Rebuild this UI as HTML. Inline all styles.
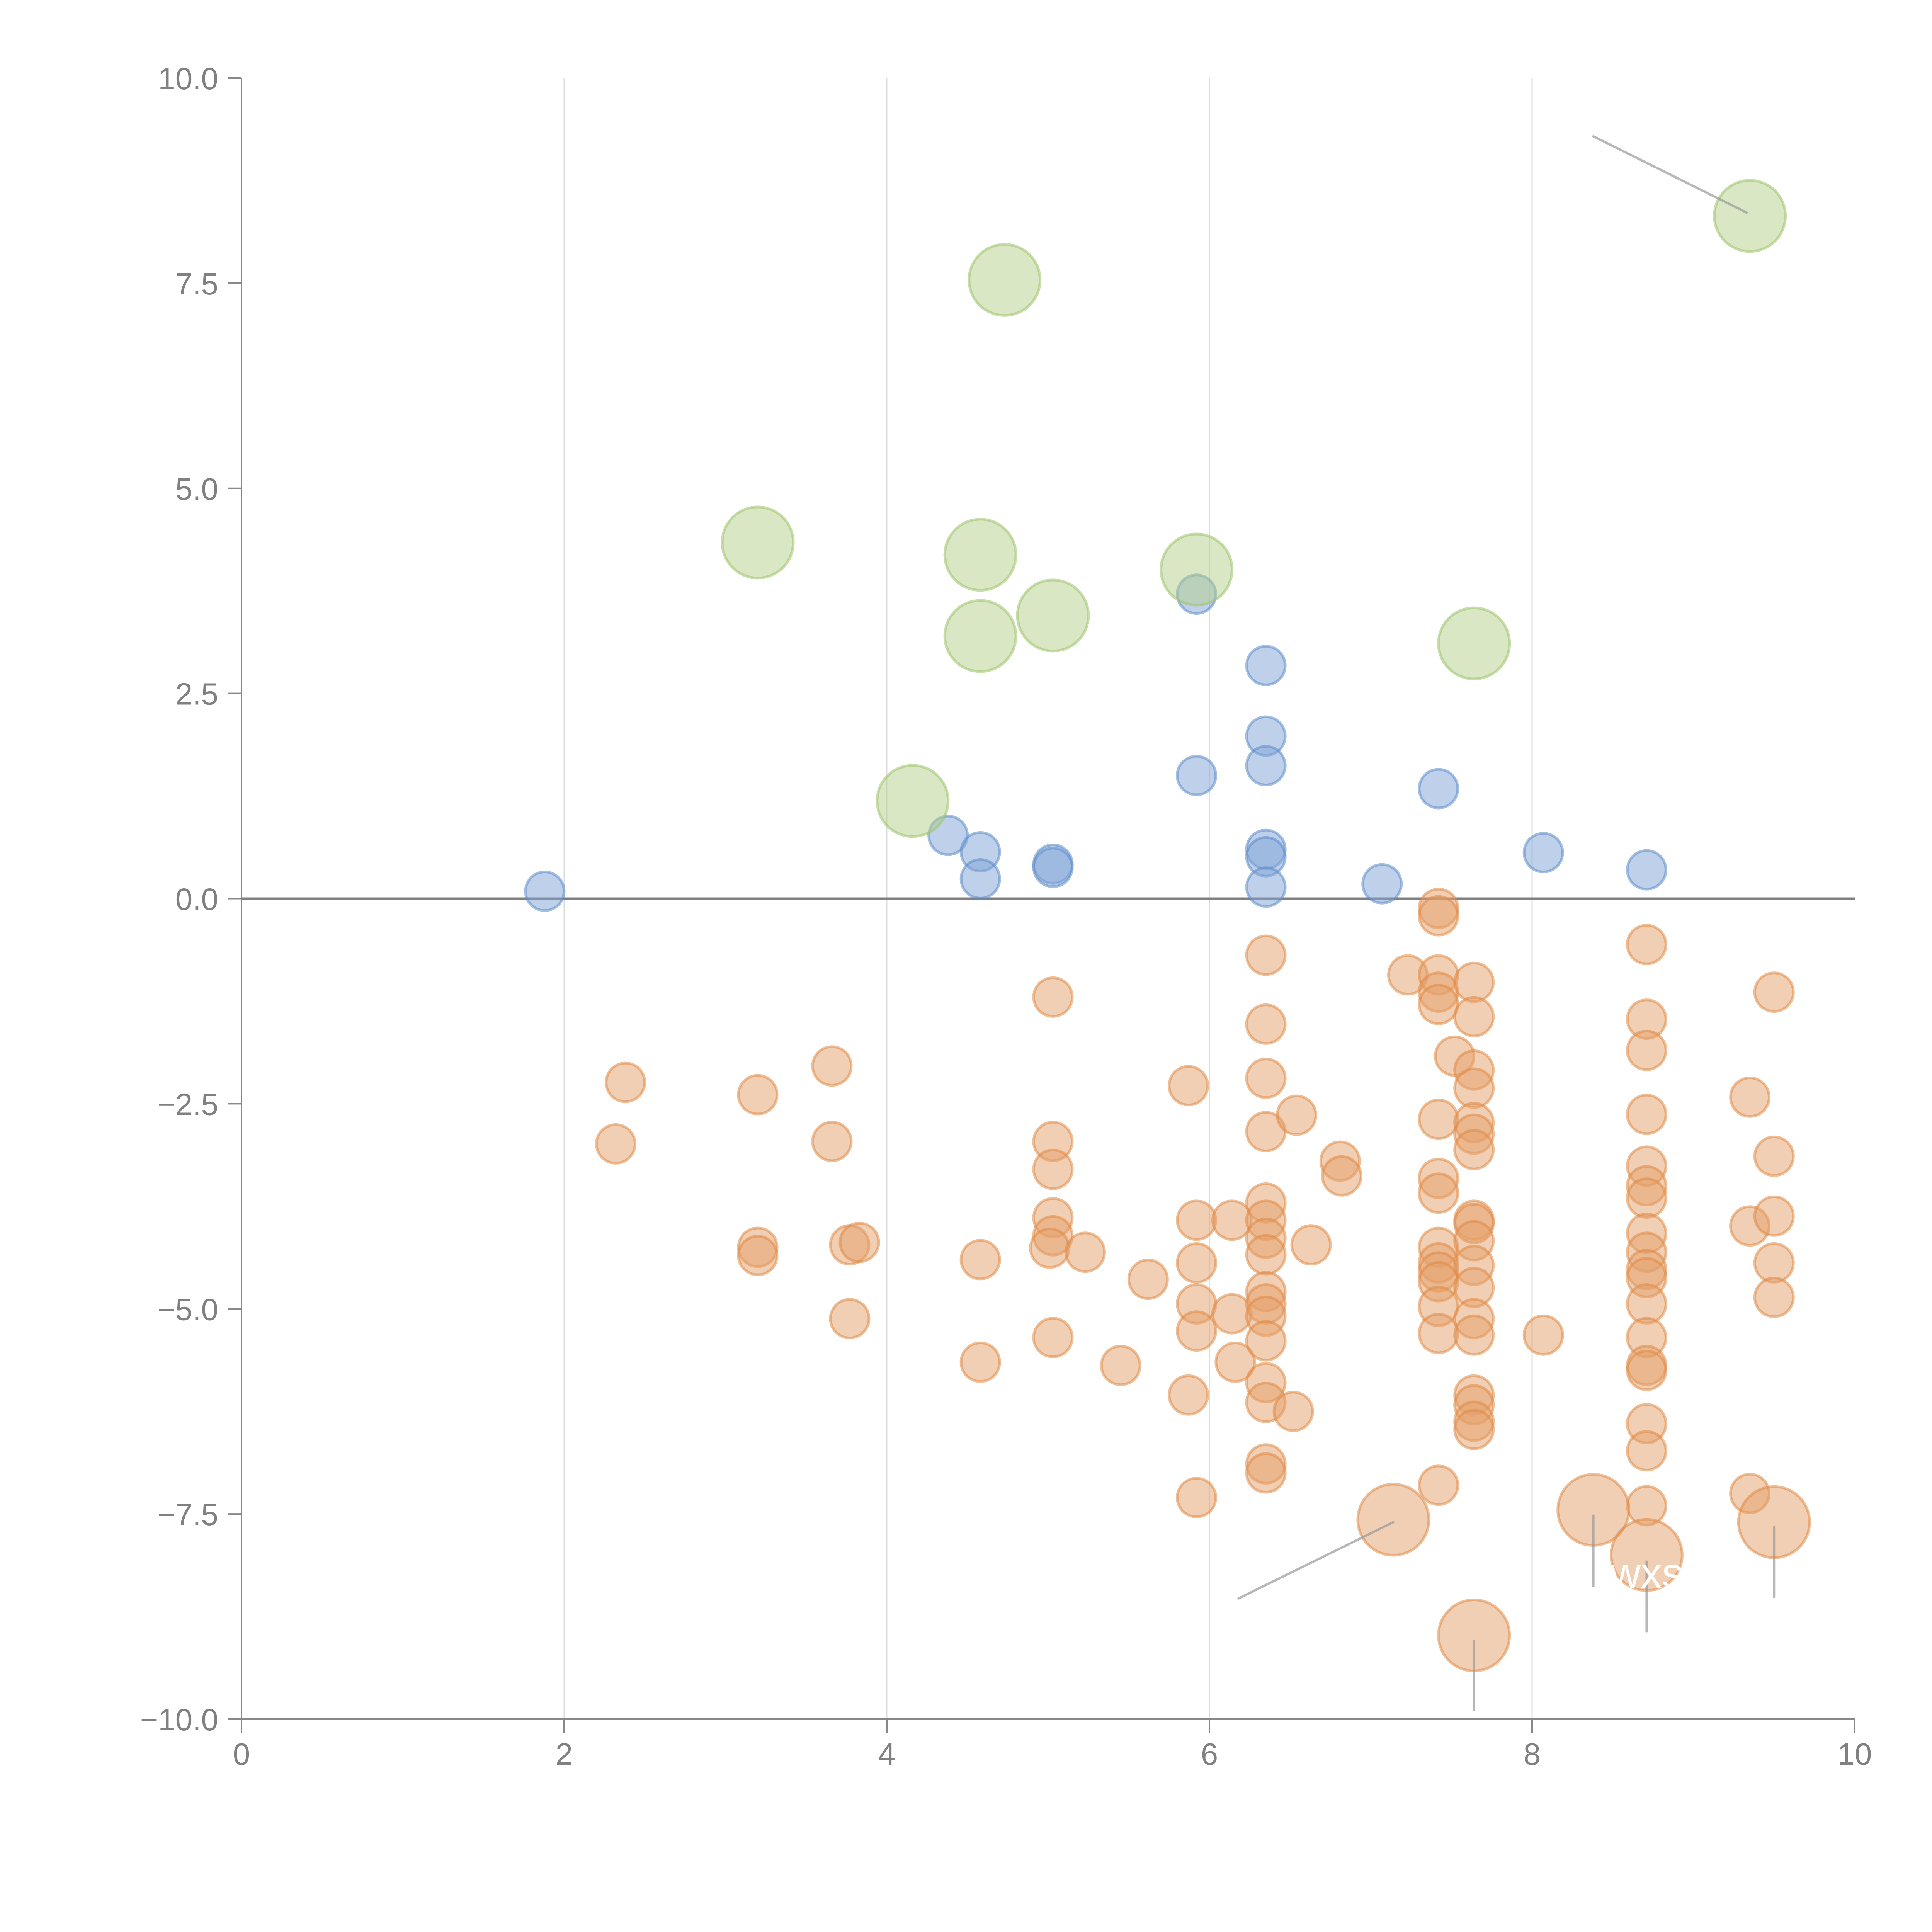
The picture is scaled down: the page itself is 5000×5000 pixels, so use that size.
<!DOCTYPE html>
<html><head><meta charset="utf-8"><style>html,body{margin:0;padding:0;background:#fff}svg{display:block}</style></head>
<body>
<svg id="chart" width="5000" height="5000" viewBox="0 0 5000 5000" xmlns="http://www.w3.org/2000/svg" font-family="'Liberation Sans', sans-serif"></svg>
<script>
const xTicks=[0,2,4,6,8,10];
const yTicks=[-10,-7.5,-5,-2.5,0,2.5,5,7.5,10];
const yTickLabels=["\u221210.0","\u22127.5","\u22125.0","\u22122.5","0.0","2.5","5.0","7.5","10.0"];
const blueX=[1.88,4.38,4.58,4.58,5.03,5.03,5.92,5.92,6.35,6.35,6.35,6.35,6.35,6.35,7.07,7.42,8.07,8.71];
const blueY=[0.09,0.77,0.57,0.24,0.42,0.38,3.71,1.50,2.84,1.98,1.62,0.60,0.51,0.14,0.18,1.34,0.56,0.35];
const greenX=[3.20,4.73,4.58,4.58,5.03,5.92,7.64,4.16,9.35];
const greenY=[4.34,7.54,4.19,3.20,3.45,4.01,3.11,1.19,8.32];
const orangeX=[2.38,2.32,3.20,3.20,3.20,3.66,3.66,3.77,3.83,3.77,4.58,4.58,5.03,5.03,5.03,5.03,5.03,5.01,5.23,5.03,5.45,5.62,5.87,5.92,5.92,5.92,5.92,5.87,5.92,6.14,6.14,6.16,
6.35,6.35,6.35,6.35,6.35,6.35,6.35,6.35,6.35,6.35,6.35,6.35,6.35,6.35,6.35,6.35,6.52,6.54,6.63,6.81,6.82,7.23,
7.42,7.42,7.42,7.42,7.42,7.42,7.42,7.42,7.42,7.42,7.42,7.42,7.42,7.42,7.42,7.52,
7.64,7.64,7.64,7.64,7.64,7.64,7.64,7.64,7.64,7.64,7.64,7.64,7.64,7.64,7.64,7.64,7.64,7.64,8.07,
8.71,8.71,8.71,8.71,8.71,8.71,8.71,8.71,8.71,8.71,8.71,8.71,8.71,8.71,8.71,8.71,8.71,8.71,
9.35,9.35,9.35,9.50,9.50,9.50,9.50,9.50];
const orangeY=[-2.24,-2.99,-2.39,-4.25,-4.35,-2.04,-2.96,-4.22,-4.19,-5.12,-4.40,-5.65,-1.20,-2.96,-3.30,-3.89,-4.11,-4.26,-4.31,-5.35,-5.69,-4.64,-2.28,-3.92,-4.44,-4.94,-5.27,-6.05,-7.30,-3.92,-5.06,-5.65,
-0.69,-1.53,-2.19,-2.84,-3.71,-3.92,-4.14,-4.34,-4.79,-4.94,-5.09,-5.39,-5.90,-6.14,-6.89,-7.00,-6.25,-2.64,-4.22,-3.20,-3.38,-0.93,
-0.12,-0.21,-0.93,-1.14,-1.29,-2.69,-3.41,-3.59,-4.25,-4.44,-4.55,-4.67,-4.97,-5.30,-7.15,-1.92,
-1.02,-1.44,-2.09,-2.31,-2.73,-2.87,-3.06,-3.92,-3.96,-4.17,-4.47,-4.74,-5.12,-5.32,-6.05,-6.17,-6.37,-6.47,-5.32,
-0.56,-1.47,-1.85,-2.63,-3.26,-3.50,-3.65,-4.08,-4.31,-4.52,-4.62,-4.94,-5.35,-5.69,-5.75,-6.40,-6.73,-7.40,
-2.42,-3.99,-7.25,-1.14,-3.14,-3.87,-4.44,-4.86];
const bigOrangeX=[7.14,8.38,8.71,9.50,7.64];
const bigOrangeY=[-7.57,-7.45,-8.00,-7.60,-8.98];
const leaderX1=[8.38,6.18,8.38,8.71,9.50,7.64];
const leaderY1=[9.29,-8.53,-7.52,-8.08,-7.66,-9.05];
const leaderX2=[9.33,7.14,8.38,8.71,9.50,7.64];
const leaderY2=[8.36,-7.60,-8.38,-8.93,-8.51,-9.89];

const X0=625,X1=4800,Y0=4449,Y1=202;
const sx=v=>X0+(v-0)/10*(X1-X0);
const sy=v=>Y0-(v+10)/20*(Y0-Y1);
const svg=document.getElementById('chart');
const NS='http://www.w3.org/2000/svg';
function mk(tag,attrs,parent){const e=document.createElementNS(NS,tag);for(const k in attrs)e.setAttribute(k,attrs[k]);(parent||svg).appendChild(e);return e;}

// gridlines
xTicks.forEach((t,i)=>{if(t===0||t===10)return;
 const g=mk('line',{x1:sx(t),x2:sx(t),y1:Y1,y2:Y0,stroke:'#dcdcdc','stroke-width':3});
 
 
});
// axes
const ya=mk('line',{x1:X0,x2:X0,y1:Y1,y2:Y0,stroke:'#888','stroke-width':4});


const xa=mk('line',{x1:X0,x2:X1,y1:Y0,y2:Y0,stroke:'#888','stroke-width':4});


xTicks.forEach(t=>{
 const l=mk('line',{x1:sx(t),x2:sx(t),y1:Y0,y2:Y0+35,stroke:'#888','stroke-width':4});
 
 
 const tx=mk('text',{x:sx(t),y:Y0+118,'text-anchor':'middle','font-size':80,fill:'#808080'});
 tx.textContent=String(t);
 
 
});
yTicks.forEach((t,i)=>{
 const l=mk('line',{x1:X0-35,x2:X0,y1:sy(t),y2:sy(t),stroke:'#888','stroke-width':4});
 
 
 const tx=mk('text',{x:X0-60,y:sy(t)+29,'text-anchor':'end','font-size':80,fill:'#808080'});
 tx.textContent=yTickLabels[i];
 
 
});
const zl=mk('line',{x1:X0,x2:X1,y1:sy(0),y2:sy(0),stroke:'#808080','stroke-width':6});



function series(xs,ys,r,fill,stroke,name){
 xs.forEach((x,i)=>{
  const c=mk('circle',{cx:sx(x),cy:sy(ys[i]),r:r,fill:fill,'fill-opacity':0.5,stroke:stroke,'stroke-opacity':0.55,'stroke-width':7});
  
  
 });
}
series(orangeX,orangeY,50,'#e3a06a','#e08a45','orange');
series(bigOrangeX,bigOrangeY,92,'#e3a06a','#e08a45','orange-large');
series(blueX,blueY,50,'#7fa3d6','#5d8ccb','blue');
series(greenX,greenY,92,'#b5d08a','#9cc26a','green');

leaderX1.forEach((x,i)=>{
 const l=mk('line',{x1:sx(x),y1:sy(leaderY1[i]),x2:sx(leaderX2[i]),y2:sy(leaderY2[i]),stroke:'#999','stroke-opacity':0.7,'stroke-width':6,'stroke-linecap':'round'});
 
 
});
const lab=mk('text',{x:sx(8.71),y:sy(-8.4),'text-anchor':'middle','font-size':110,fill:'#fff'});
lab.textContent='wxs';


</script>
</body></html>
